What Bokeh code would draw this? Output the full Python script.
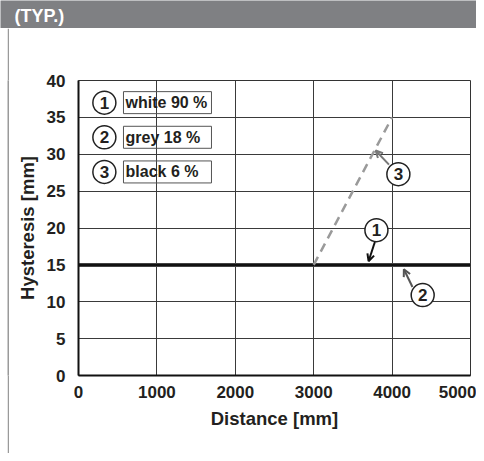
from bokeh.plotting import figure
from bokeh.layouts import column, row
from bokeh.models import Range1d, Arrow, OpenHead, FixedTicker
from bokeh.core.properties import value
from bokeh.embed import file_html
from bokeh.resources import INLINE

# ---- data ----
x_ticks = [0, 1000, 2000, 3000, 4000, 5000]
y_ticks = [0, 5, 10, 15, 20, 25, 30, 35, 40]
dist_white = [0, 5000]
hyst_white = [15, 15]
dist_grey = [0, 5000]
hyst_grey = [15, 15]
dist_black = [3000, 4000]
hyst_black = [15, 35]
legend_numbers = ["1", "2", "3"]
legend_labels = ["white 90 %", "grey 18 %", "black 6 %"]
header_text = "(TYP.)"

FONT = value("Liberation Sans")
TXT = "#231f20"
BAND = "#7f8083"
W, H = 476, 453
BAND_H = 28

# ---- header band ----
band = figure(width=W, height=BAND_H, output_backend="svg", toolbar_location=None,
              x_range=Range1d(0, W), y_range=Range1d(0, BAND_H),
              x_axis_type=None, y_axis_type=None, min_border=0,
              background_fill_color=BAND, border_fill_color=BAND, outline_line_color=None)
band.grid.visible = False
band.text(x=[14], y=[BAND_H - 15], text=[header_text], text_font=FONT, text_font_style="bold",
          text_font_size="18px", text_color="white", text_baseline="middle", text_align="left")

# ---- left white gap + thin gray border ----
gap = figure(width=7, height=H - BAND_H, output_backend="svg", toolbar_location=None,
             x_range=Range1d(0, 1), y_range=Range1d(0, 1),
             x_axis_type=None, y_axis_type=None, min_border=0,
             background_fill_color="white", border_fill_color="white", outline_line_color=None)
gap.grid.visible = False
edge = figure(width=2, height=H - BAND_H, output_backend="svg", toolbar_location=None,
              x_range=Range1d(0, 1), y_range=Range1d(0, 1),
              x_axis_type=None, y_axis_type=None, min_border=0,
              background_fill_color="#9a9a9a", border_fill_color="#9a9a9a", outline_line_color=None)
edge.grid.visible = False

# ---- main plot ----
PW = W - 9
PH = H - BAND_H
p = figure(width=PW, height=PH, output_backend="svg", toolbar_location=None,
           x_range=Range1d(0, 5000), y_range=Range1d(0, 40),
           min_border_left=69, min_border_right=PW - (470 - 9), min_border_top=80 - BAND_H,
           min_border_bottom=PH - (375 - BAND_H),
           background_fill_color="white", border_fill_color="white",
           outline_line_color="#333333", outline_line_width=1)

p.xaxis.ticker = FixedTicker(ticks=x_ticks)
p.yaxis.ticker = FixedTicker(ticks=y_ticks)
for ax in (p.xaxis[0], p.yaxis[0]):
    ax.major_tick_line_color = None
    ax.minor_tick_line_color = None
    ax.axis_line_color = "#111111"
    ax.axis_line_width = 2
    ax.major_label_text_font = "Liberation Sans"
    ax.major_label_text_font_style = "bold"
    ax.major_label_text_font_size = "17px"
    ax.major_label_text_color = TXT
    ax.axis_label_text_font = "Liberation Sans"
    ax.axis_label_text_font_style = "bold"
    ax.axis_label_text_font_size = "18.5px"
    ax.axis_label_text_color = TXT
p.xaxis.axis_label = "Distance [mm]"
p.yaxis.axis_label = "Hysteresis [mm]"
p.xaxis.major_label_standoff = 4
p.yaxis.major_label_standoff = 7
p.xaxis.axis_label_standoff = 7
p.yaxis.axis_label_standoff = 6
p.grid.grid_line_color = "#3a3a3a"
p.grid.grid_line_width = 1
p.grid.grid_line_alpha = 1

# curves
p.line(dist_grey, hyst_grey, line_color="#555555", line_width=4)
p.line(dist_white, hyst_white, line_color="#111111", line_width=2.5)
p.line(dist_black, hyst_black, line_color="#9a9a9a", line_width=2.5, line_dash="9 6")

# legend (circled numbers + boxed labels)
leg_x = 330
leg_y = [37.0, 32.3, 27.6]
p.scatter(x=[leg_x] * 3, y=leg_y, size=23, marker="circle",
          fill_color="white", line_color="#222222", line_width=1.5)
p.text(x=[leg_x] * 3, y=leg_y, text=legend_numbers, text_font=FONT, text_font_style="bold",
       text_font_size="17px", text_color=TXT, text_align="center", text_baseline="middle")
p.rect(x=[1135] * 3, y=leg_y, width=88, height=22, width_units="screen", height_units="screen",
       fill_color=None, line_color="#555555", line_width=1)
p.text(x=[600] * 3, y=leg_y, text=legend_labels, text_font=FONT, text_font_style="bold",
       text_font_size="16px", text_color=TXT, text_align="left", text_baseline="middle")

# callouts
call_x = [3800, 4390, 4080]
call_y = [19.7, 10.9, 27.3]
p.scatter(x=call_x, y=call_y, size=23, marker="circle",
          fill_color="white", line_color="#222222", line_width=1.5)
p.text(x=call_x, y=call_y, text=legend_numbers, text_font=FONT, text_font_style="bold",
       text_font_size="17px", text_color=TXT, text_align="center", text_baseline="middle")
p.add_layout(Arrow(end=OpenHead(size=7, line_color="#111111", line_width=2),
                   x_start=3780, y_start=18.1, x_end=3700, y_end=15.5,
                   line_color="#111111", line_width=2))
p.add_layout(Arrow(end=OpenHead(size=7, line_color="#555555", line_width=2),
                   x_start=4260, y_start=12.0, x_end=4150, y_end=14.4,
                   line_color="#555555", line_width=2))
p.add_layout(Arrow(end=OpenHead(size=7, line_color="#777777", line_width=2),
                   x_start=3960, y_start=28.6, x_end=3790, y_end=30.5,
                   line_color="#777777", line_width=2))

layout = column(band, row(gap, edge, p, spacing=0), spacing=0)
open("out.html", "w").write(file_html(layout, INLINE))
